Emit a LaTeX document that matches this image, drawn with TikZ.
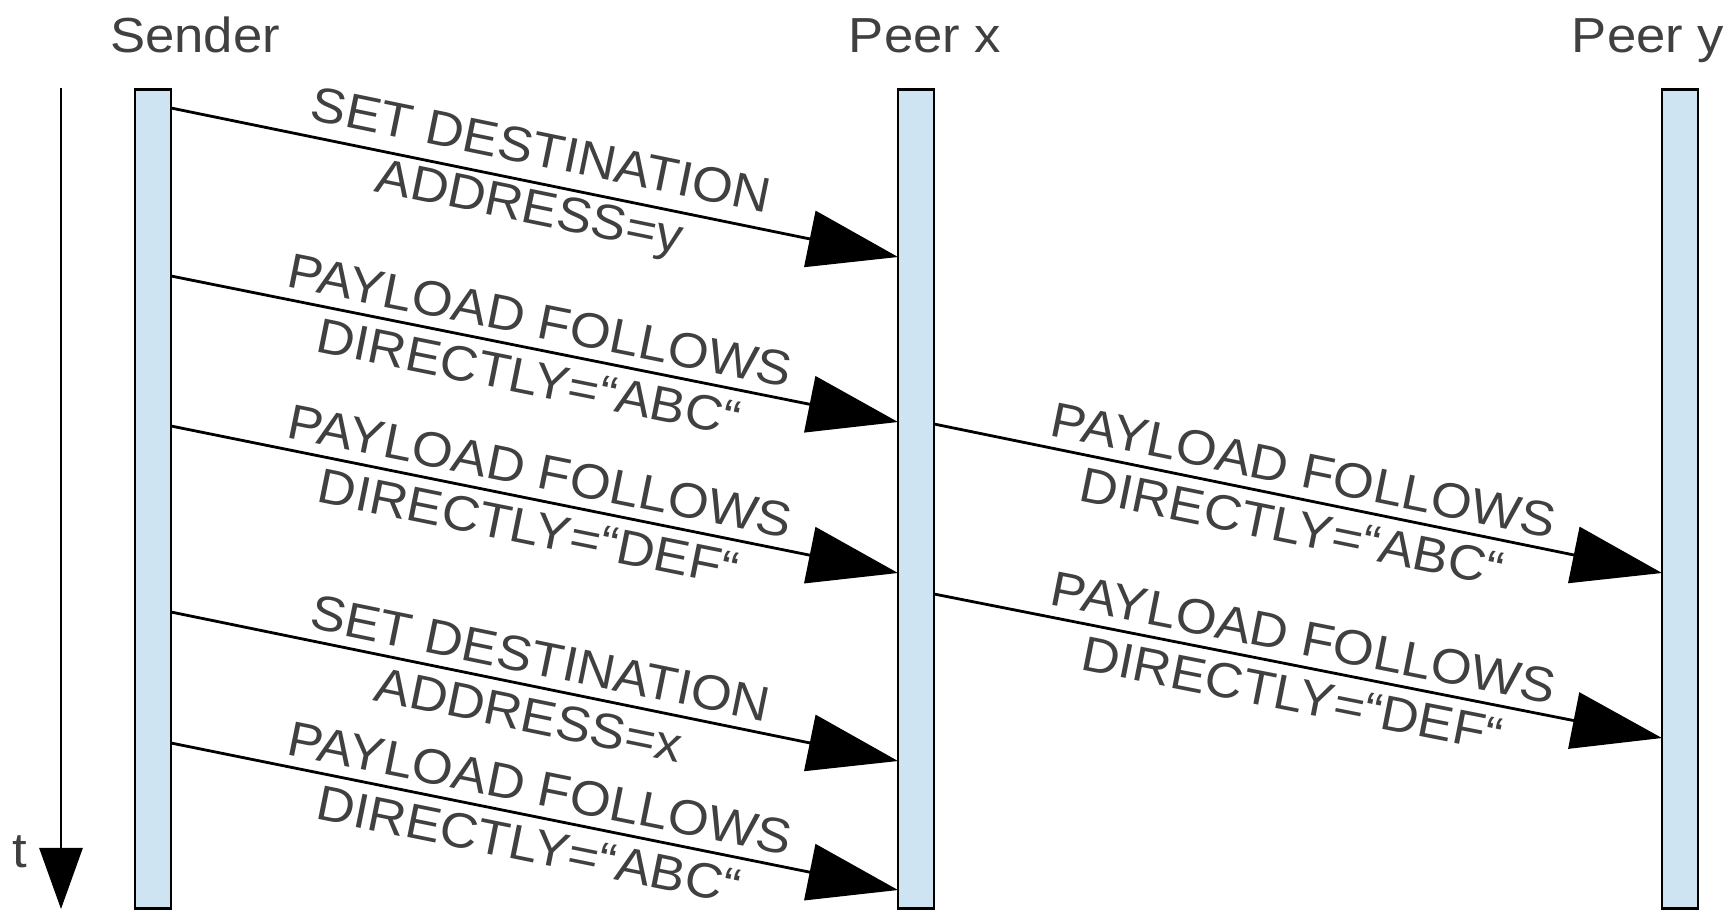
\documentclass[tikz,border=0pt]{standalone}
\usepackage{fontspec}
\setmainfont[FakeStretch=1.07]{Liberation Sans}
\usetikzlibrary{arrows.meta}
\definecolor{barfill}{RGB}{207,228,242}
\definecolor{txt}{RGB}{64,64,64}
\begin{document}
\begin{tikzpicture}[x=0.01cm,y=-0.01cm,
  bar/.style={draw=black, fill=barfill, line width=0.8pt, minimum width=0.36cm, minimum height=8.19cm, inner sep=0, anchor=north},
  msg/.style={line width=0.8pt, -{Triangle[length=0.9cm,width=0.57cm]}},
  lbl/.style={font=\fontsize{14}{16.4}\selectfont, text=txt, align=center, sloped, inner sep=0},
  head/.style={font=\fontsize{14}{17}\selectfont, text=txt, anchor=base}]
\useasboundingbox (0,0) rectangle (1734,909);
% lifelines
\node[bar] (sender) at (153,88) {};
\node[bar] (peerx) at (916,88) {};
\node[bar] (peery) at (1680,88) {};
% headers
\node[head] (hs) at (195,52) {Sender};
\node[head] (hx) at (925,52) {Peer x};
\node[head] (hy) at (1648,52) {Peer y};
% time axis
\coordinate (ttop) at (61,88);
\coordinate (tbot) at (61,909);
\draw[line width=0.8pt, -{Triangle[length=0.61cm,width=0.43cm]}] (ttop) -- (tbot);
\node[font=\fontsize{14}{17}\selectfont, text=txt] (tl) at (20,852) {t};
% message end points
\coordinate (a1) at (171,108);  \coordinate (b1) at (898,257);
\coordinate (a2) at (171,276);  \coordinate (b2) at (898,422);
\coordinate (a3) at (171,426);  \coordinate (b3) at (898,573);
\coordinate (a4) at (171,612);  \coordinate (b4) at (898,761);
\coordinate (a5) at (171,743);  \coordinate (b5) at (898,890);
\coordinate (a6) at (934,424);  \coordinate (b6) at (1662,573);
\coordinate (a7) at (934,594);  \coordinate (b7) at (1662,738);
% messages
\draw[msg] (a1) -- node[lbl] (l1) {SET DESTINATION\\ADDRESS=y} (b1);
\draw[msg] (a2) -- node[lbl] (l2) {PAYLOAD FOLLOWS\\DIRECTLY=“ABC“} (b2);
\draw[msg] (a3) -- node[lbl] (l3) {PAYLOAD FOLLOWS\\DIRECTLY=“DEF“} (b3);
\draw[msg] (a4) -- node[lbl] (l4) {SET DESTINATION\\ADDRESS=x} (b4);
\draw[msg] (a5) -- node[lbl] (l5) {PAYLOAD FOLLOWS\\DIRECTLY=“ABC“} (b5);
\draw[msg] (a6) -- node[lbl] (l6) {PAYLOAD FOLLOWS\\DIRECTLY=“ABC“} (b6);
\draw[msg] (a7) -- node[lbl] (l7) {PAYLOAD FOLLOWS\\DIRECTLY=“DEF“} (b7);
\end{tikzpicture}
\end{document}
